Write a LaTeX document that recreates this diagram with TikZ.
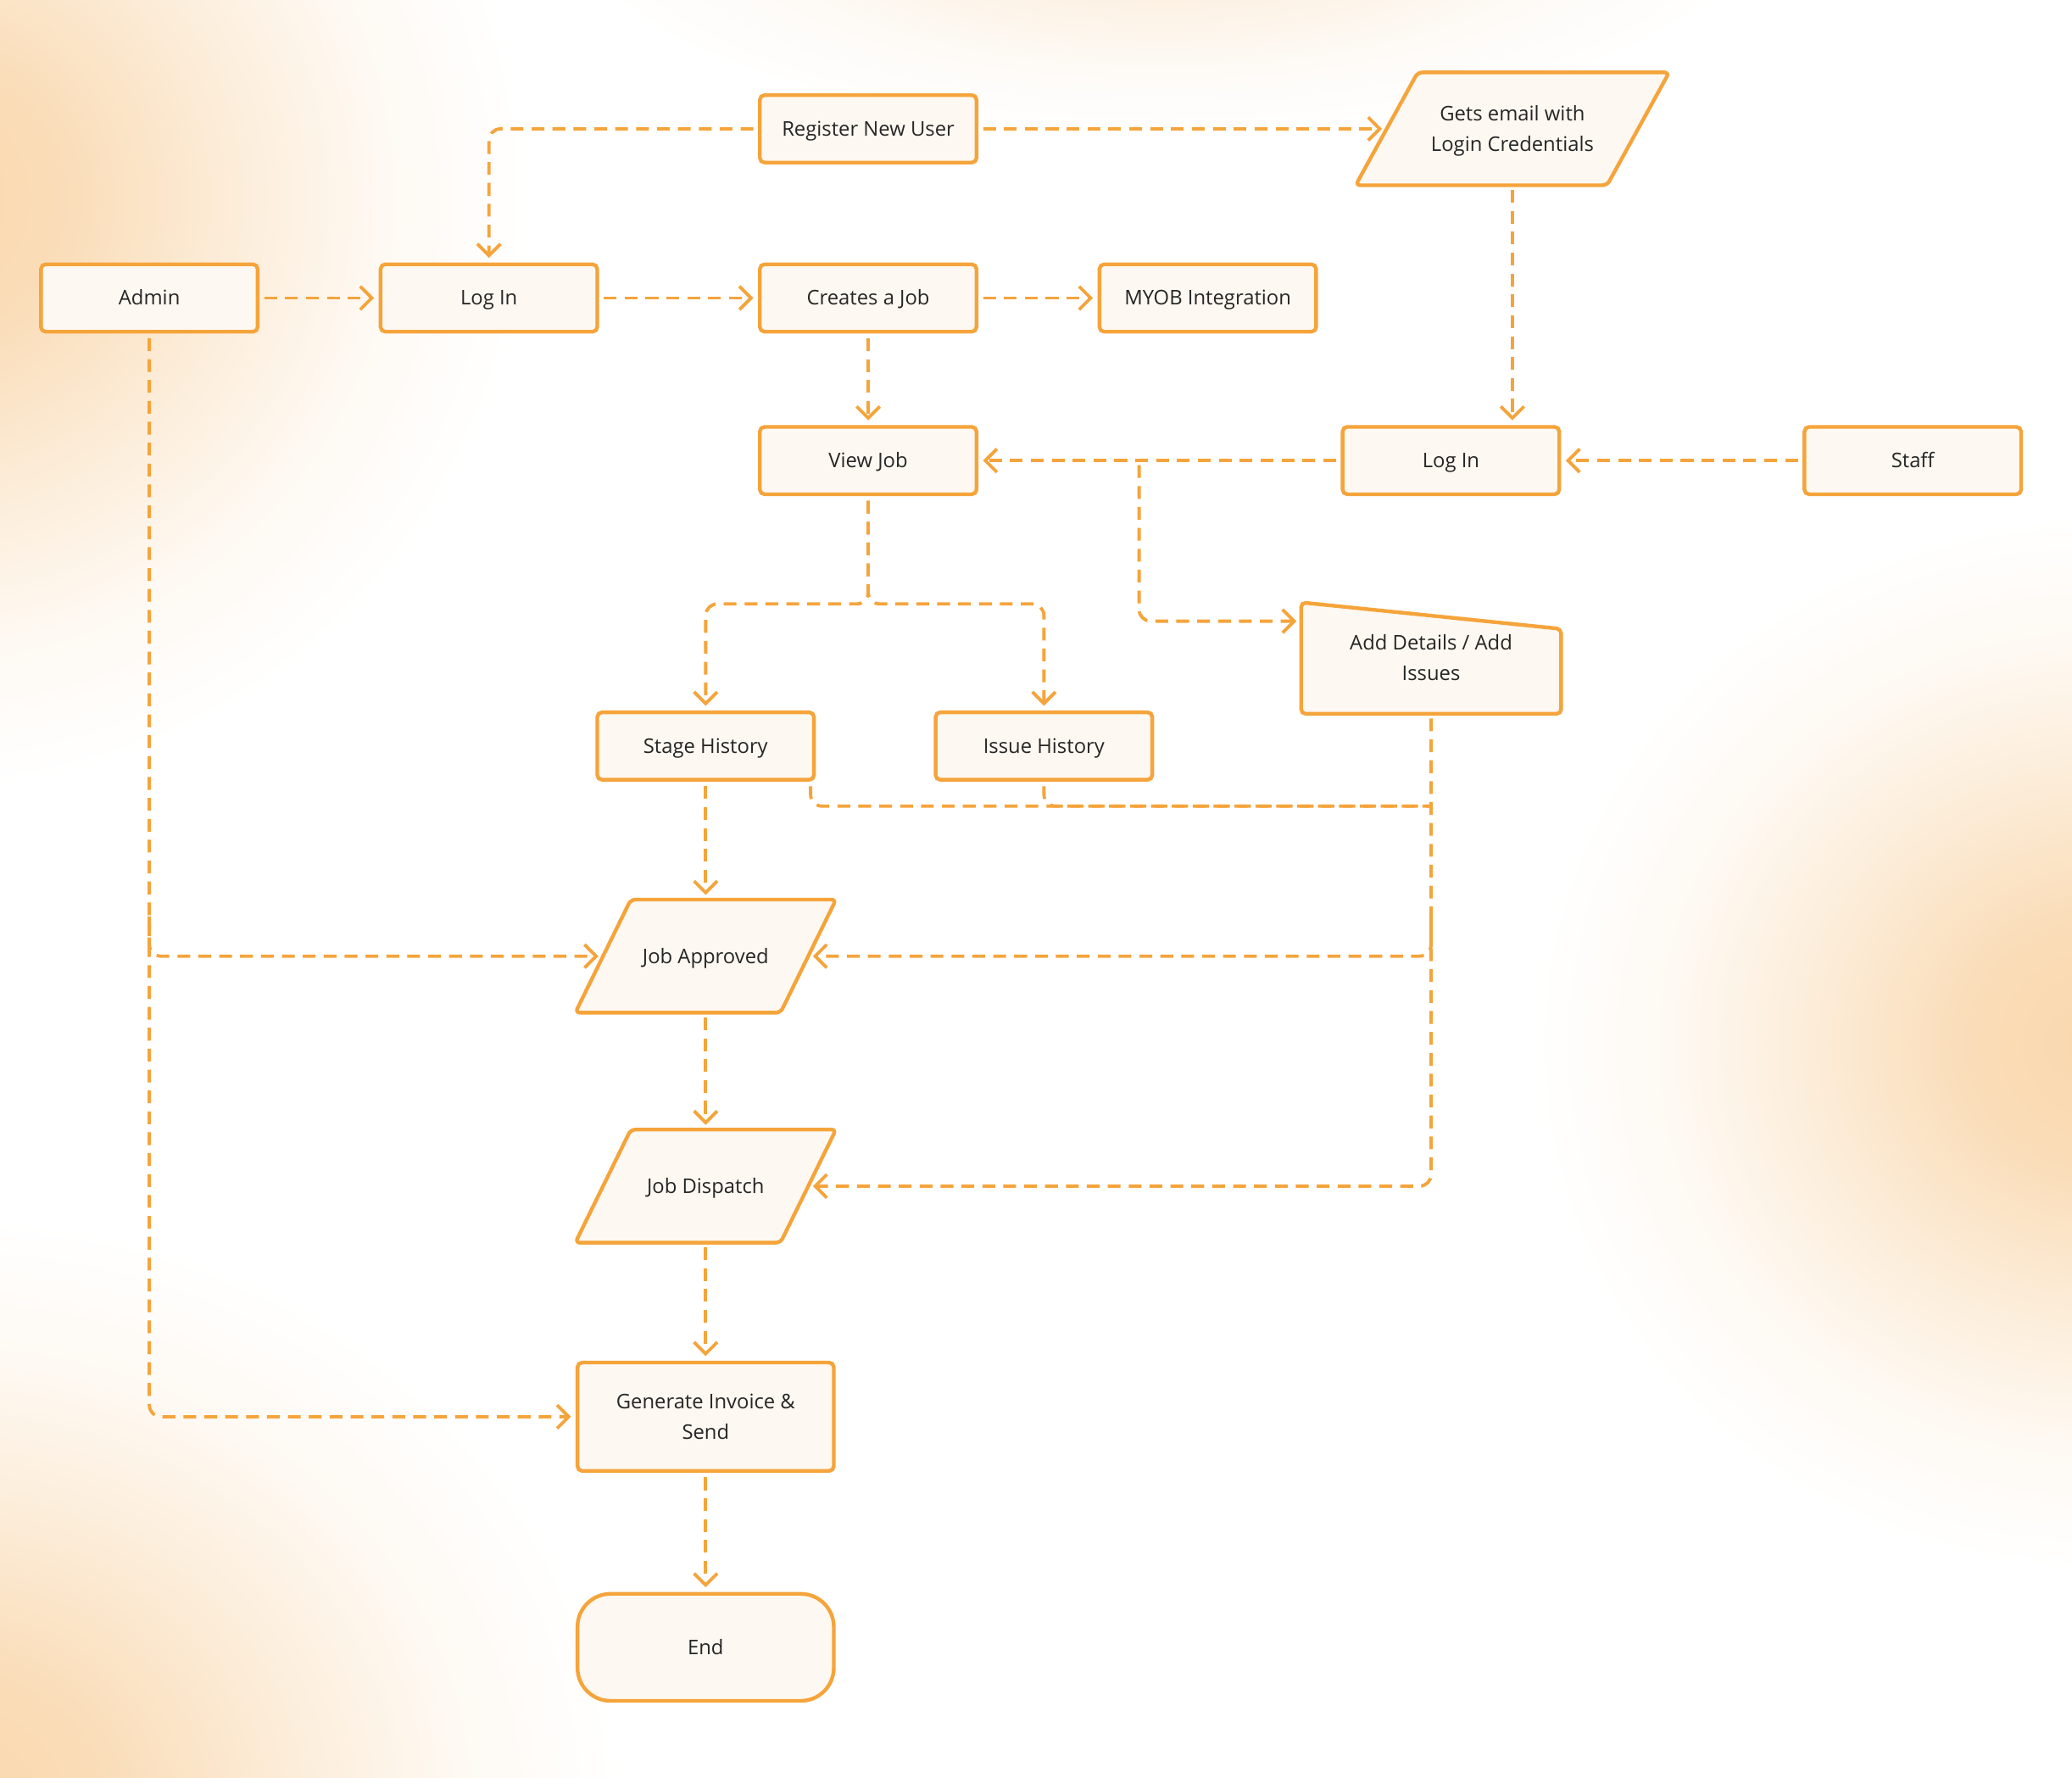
\documentclass[tikz,border=0pt]{standalone}
\usepackage{fontspec}
\setmainfont{Open Sans}
\usepackage{tikz}
\usetikzlibrary{arrows.meta}
\pgfdeclarelayer{back}
\pgfdeclarelayer{bg}
\pgfsetlayers{back,bg,main}
\definecolor{lineorange}{RGB}{245,164,59}
\definecolor{boxfill}{RGB}{253,248,241}
\definecolor{inktext}{RGB}{38,38,38}
\definecolor{glow}{RGB}{249,215,172}
\pgfdeclareradialshading{glowfade}{\pgfpoint{0bp}{0bp}}{color(0bp)=(glow); color(6bp)=(glow!85!white); color(13bp)=(glow!45!white); color(19bp)=(glow!15!white); color(25bp)=(white); color(50bp)=(white)}

\begin{document}
\begin{tikzpicture}[x=0.02cm,y=-0.02cm,>={Straight Barb[length=5pt,width=10pt]},
  every node/.style={font=\fontsize{8.7}{13}\selectfont, text=inktext},
  box/.style={draw=lineorange, line width=1.6pt, fill=boxfill, rounded corners=2pt,
    minimum width=3.28cm, minimum height=1.02cm, inner sep=0pt, align=center,
    text height=7.4pt, text depth=1.2pt},
  two/.style={text height=20.4pt, text depth=1.2pt},
  io/.style={box, draw=none, fill=none, minimum width=3.89cm, minimum height=1.656cm},
  link/.style={draw=lineorange, line width=1.4pt, dash pattern=on 5.5pt off 3.5pt,
    shorten >=2pt, shorten <=2pt},
  every edge/.append style={link}]
  \useasboundingbox (0,0) rectangle (1568,1345.3);
  % background glow
  \begin{pgfonlayer}{back}
    \fill[white] (0,0) rectangle (1568,1345.3);
    \begin{scope}
      \clip (0,0) rectangle (1568,1345.3);
      \shade[shading=glowfade] (-60,150) ellipse (9.2cm and 9cm);
      \shade[shading=glowfade, opacity=0.5] (880,-60) ellipse (9cm and 3.2cm);
      \shade[shading=glowfade] (-40,1370) ellipse (10.2cm and 9cm);
      \shade[shading=glowfade] (1590,790) ellipse (8.6cm and 8cm);
    \end{scope}
  \end{pgfonlayer}

  \node[box] (reg) at (657,97.5) {Register New User};
  \node[io, two, minimum width=4.69cm, minimum height=1.652cm] (mail) at (1144.5,97.5) {Gets email with\\Login Credentials};
  \node[box] (admin) at (113,225.5) {Admin};
  \node[box] (login1) at (370,225.5) {Log In};
  \node[box] (create) at (657,225.5) {Creates a Job};
  \node[box] (myob) at (914,225.5) {MYOB Integration};
  \node[box] (view) at (657,348.5) {View Job};
  \node[box] (login2) at (1098,348.5) {Log In};
  \node[box] (staff) at (1447.5,348.5) {Staff};
  \node[box, two, draw=none, fill=none, minimum width=3.88cm, minimum height=1.63cm] (details) at (1083,498) {Add Details / Add\\Issues};
  \node[box] (stage) at (534,564.5) {Stage History};
  \node[box] (issue) at (790,564.5) {Issue History};
  \node[io] (approved) at (534,723.5) {Job Approved};
  \node[io] (dispatch) at (534,897.5) {Job Dispatch};
  \node[box, two, minimum width=3.88cm, minimum height=1.64cm] (invoice) at (534,1072) {Generate Invoice \&\\Send};
  \node[box, minimum width=3.88cm, minimum height=1.62cm, rounded corners=0.5cm] (endnode) at (534,1246.5) {End};

  % outlines of the slanted shapes
  \begin{pgfonlayer}{bg}
    \draw[box] ([xshift=0.94cm]mail.north west) -- (mail.north east)
      -- ([xshift=-0.94cm]mail.south east) -- (mail.south west) -- cycle;
    \foreach \n in {approved,dispatch}
      \draw[box] ([xshift=0.84cm]\n.north west) -- (\n.north east)
        -- ([xshift=-0.84cm]\n.south east) -- (\n.south west) -- cycle;
    \draw[box] (details.south west) -- (details.north west) -- ([yshift=-0.4cm]details.north east)
      -- (details.south east) -- cycle;
  \end{pgfonlayer}

  % junctions
  \coordinate (jview) at (657,457);
  \coordinate (jlog) at (862,348.5);
  \coordinate (jhist) at (1083,610);
  \coordinate (jdet) at (1083,690);
  \coordinate (jadmin) at (113,690);

  \path[->] (admin) edge (login1)
            (login1) edge (create)
            (create) edge (myob)
            (create) edge (view)
            (reg) edge ([xshift=0.47cm]mail.west)
            (staff) edge (login2)
            (login2) edge (view)
            (stage) edge (approved)
            (approved) edge (dispatch)
            (dispatch) edge (invoice)
            (invoice) edge (endnode);

  \draw[link,->,rounded corners=5pt] (reg) -| (login1);
  \draw[link,->] (mail) -- (mail |- login2.north);
  \draw[link,->,rounded corners=5pt] (jlog) |- ([yshift=0.56cm]details.west);
  \draw[link,->,rounded corners=5pt] (view) -- (jview) -| (stage);
  \draw[link,->,rounded corners=5pt] (view) -- (jview) -| (issue);
  \draw[link,rounded corners=5pt,shorten >=0pt] ([xshift=-0.08cm]stage.south east) |- (jhist);
  \draw[link,rounded corners=5pt,shorten >=0pt] (issue) |- (jhist);
  \draw[link,->,rounded corners=5pt] (details) |- ([xshift=-0.42cm]dispatch.east);
  \draw[link,->,rounded corners=5pt] (jdet) |- ([xshift=-0.42cm]approved.east);
  \draw[link,->,rounded corners=5pt] (admin) |- (invoice);
  \draw[link,->,rounded corners=5pt] (jadmin) |- ([xshift=0.42cm]approved.west);
\end{tikzpicture}
\end{document}
